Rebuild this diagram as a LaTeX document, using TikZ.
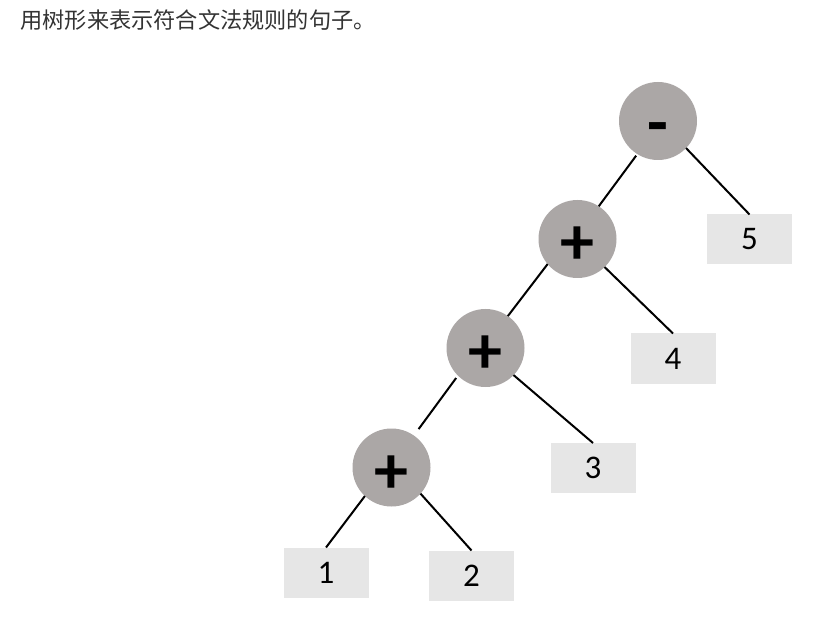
\documentclass[tikz,border=0pt]{standalone}
\usepackage{fontspec}
\setmainfont{Carlito}
\newfontfamily\cjk{Noto Sans CJK SC}
\definecolor{opfill}{HTML}{ABA7A6}
\definecolor{leaffill}{HTML}{E6E6E6}
\definecolor{titlegray}{HTML}{333333}
% lower a glyph inside its node while keeping the node's box size
\newcommand{\opsym}[2]{\raisebox{-#1}[\height][\depth]{#2}}
\begin{document}
\begin{tikzpicture}[x=1pt,y=-1pt,
  op/.style={circle,fill=opfill,minimum size=78pt,inner sep=0pt,outer sep=0pt,
    font=\fontsize{68}{68}\selectfont\bfseries},
  leaf/.style={rectangle,fill=leaffill,minimum width=85pt,minimum height=50pt,
    inner sep=0pt,outer sep=0pt,font=\fontsize{33}{33}\selectfont},
  edge/.style={line width=2pt}]
\useasboundingbox (0,0) rectangle (819,617);
\fill[white] (0,0) rectangle (819,617);

% heading
\node[anchor=west,text=titlegray,font=\cjk\fontsize{22.2}{26}\selectfont] (title) at (17,20)
  {用树形来表示符合文法规则的句子。};

% operators
\node[op] (m)  at (658,121)   {\opsym{13pt}{-}};
\node[op] (p1) at (577.5,239) {\opsym{7pt}{+}};
\node[op] (p2) at (485.5,348) {\opsym{7pt}{+}};
\node[op] (p3) at (391.5,467.5) {\opsym{7pt}{+}};

% operands
\node[leaf] (n5) at (749.5,239.5) {5};
\node[leaf] (n4) at (673,358.5)   {4};
\node[leaf] (n3) at (593,468)     {3};
\node[leaf] (n1) at (326,572.5)   {1};
\node[leaf] (n2) at (471.5,575.5) {2};

% branches
\draw[edge,shorten <=2pt] (m.238) -- (p1.57);
\draw[edge] (m.316) -- (n5.north);
\draw[edge] (p1.220) -- (p2.55);
\draw[edge] (p1.314) -- (n4.north);
\draw[edge,shorten <=3pt,shorten >=8pt] (p2.225) -- (p3.55);
\draw[edge] (p2.316) -- (n3.north);
\draw[edge] (p3.227) -- (n1.north);
\draw[edge] (p3.318) -- (n2.north);
\end{tikzpicture}
\end{document}
